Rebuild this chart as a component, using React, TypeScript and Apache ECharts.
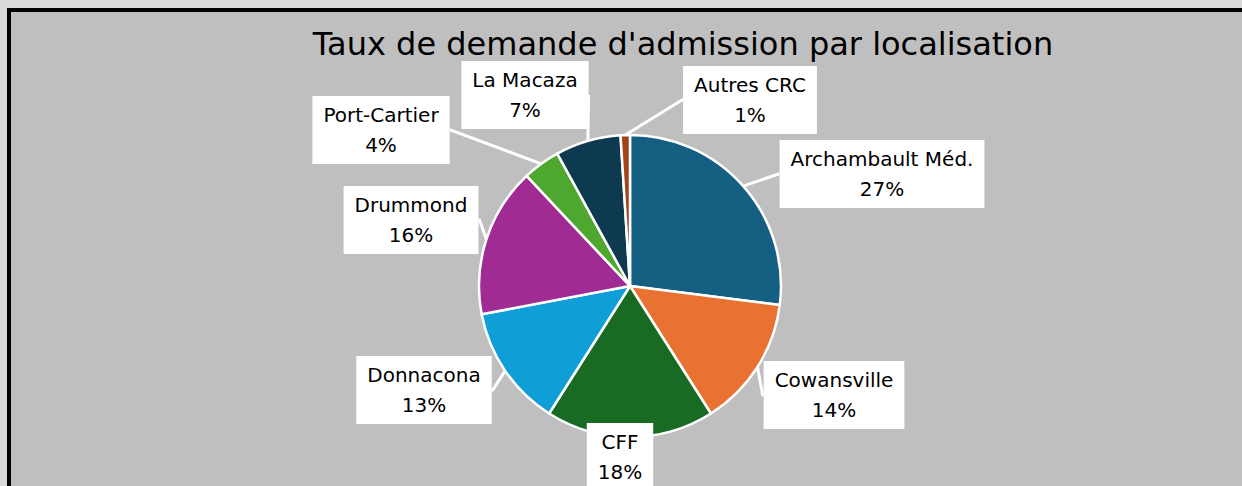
import React, { useEffect, useRef } from "react";
import * as echarts from "echarts";

const categories = ["Archambault Méd.", "Cowansville", "CFF", "Donnacona", "Drummond", "Port-Cartier", "La Macaza", "Autres CRC"];
const values = [27, 14, 18, 13, 16, 4, 7, 1];
const colors = ["#156082", "#e97132", "#196b24", "#0f9ed5", "#a02b93", "#4ea72e", "#0d3a4f", "#a0441a"];
const titleText = "Taux de demande d'admission par localisation";

// label box centres (layout)
const labelPos: [number, number][] = [
  [882, 174],
  [834, 395],
  [620, 457],
  [424, 390],
  [411, 220],
  [381, 130],
  [525, 95],
  [750, 100],
];

export default function App() {
  const ref = useRef<HTMLDivElement>(null);
  useEffect(() => {
    document.body.style.margin = "0";
    const chart = echarts.init(ref.current!, null, { renderer: "svg" });
    const font = "'DejaVu Sans', sans-serif";
    chart.setOption({
      animation: false,
      backgroundColor: "#d9d9d9",
      graphic: [
        {
          type: "rect",
          z: -10,
          silent: true,
          shape: { x: 9, y: 10, width: 1300, height: 600 },
          style: { fill: "#bfbfbf", stroke: "#000", lineWidth: 4 },
        },
      ],
      title: {
        text: titleText,
        left: 678,
        top: 23,
        textAlign: "center",
        textStyle: { fontFamily: font, fontSize: 32, fontWeight: "normal", color: "#000" },
      },
      series: [
        {
          type: "pie",
          center: [630, 286],
          radius: [0, 151],
          startAngle: 90,
          clockwise: true,
          data: categories.map((c, i) => ({ name: c, value: values[i], itemStyle: { color: colors[i] } })),
          itemStyle: { borderColor: "#fff", borderWidth: 2.5 },
          label: {
            show: true,
            formatter: "{b}\n{d}%",
            fontFamily: font,
            fontSize: 20,
            lineHeight: 30,
            color: "#000",
            backgroundColor: "#fff",
            padding: [5, 11, 3, 11],
            align: "center",
          },
          labelLine: { show: true, lineStyle: { color: "#fff", width: 3 }, length: 1, length2: 1 },
          labelLayout: (p: any) => ({
            x: labelPos[p.dataIndex][0],
            y: labelPos[p.dataIndex][1],
            align: "center",
            verticalAlign: "middle",
          }),
        },
      ],
    });
    return () => chart.dispose();
  }, []);
  return <div ref={ref} style={{ width: 1242, height: 486 }} />;
}
